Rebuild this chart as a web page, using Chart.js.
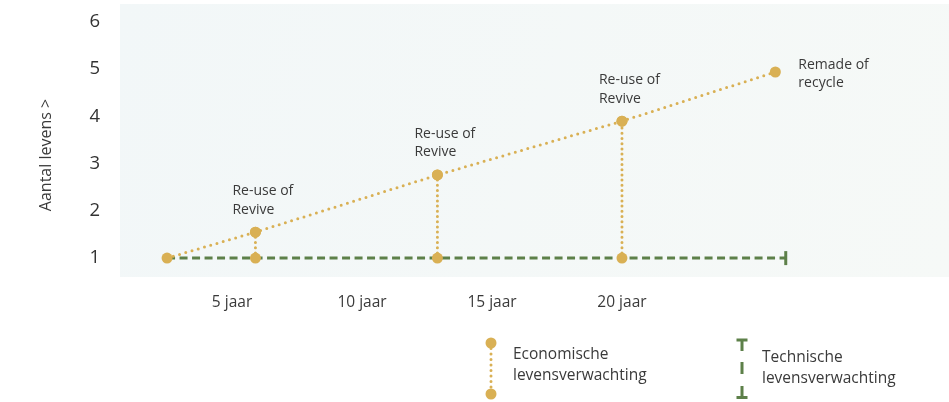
<!DOCTYPE html>
<html>
<head>
<meta charset="utf-8">
<script src="https://cdn.jsdelivr.net/npm/chart.js@4/dist/chart.umd.min.js"></script>
<style>
  html, body { margin: 0; padding: 0; background: #ffffff; }
  #wrap { width: 949px; height: 402px; position: relative; }
</style>
</head>
<body>
<div id="wrap"><canvas id="chart"></canvas></div>
<script>
// Years after production at which a product gets a new life
const lifeYears = [2.5, 5.9, 12.9, 20.0, 25.9];
// Number of lives reached at each of those moments
const lifeCounts = [1, 1.55, 2.76, 3.9, 4.94];
// What happens to the product at each moment (first point has no label)
const lifeLabels = ['', 'Re-use of\nRevive', 'Re-use of\nRevive', 'Re-use of\nRevive', 'Remade of\nrecycle'];
// Technical lifetime: one life, running until this year
const technicalStart = 2.5;
const technicalEnd = 26.3;
const technicalLives = 1;
// Axis ticks
const yearTicks = [5, 10, 15, 20];
const yearTickLabels = ['5 jaar', '10 jaar', '15 jaar', '20 jaar'];
const lifeTicks = [1, 2, 3, 4, 5, 6];

const GOLD = '#d9b054';
const GREEN = '#5d8049';
const TEXT = '#3a3a3a';
const FONT = "'Open Sans', 'DejaVu Sans', sans-serif";

// Economic lifetime: diagonal through all moments
const economicData = lifeYears.map((x, i) => ({ x, y: lifeCounts[i] }));

// Vertical drop lines from each intermediate moment down to one life
const dropSets = lifeYears.slice(1, 4).map((x, i) => ({
  data: [{ x, y: technicalLives }, { x, y: lifeCounts[i + 1] }],
  borderColor: GOLD,
  backgroundColor: GOLD,
  borderWidth: 3,
  borderDash: [0, 5.2],
  borderCapStyle: 'round',
  pointRadius: 5.5,
  pointHoverRadius: 5.5,
  pointBorderWidth: 0,
  order: 1
}));

const datasets = [
  {
    data: economicData,
    borderColor: GOLD,
    backgroundColor: GOLD,
    borderWidth: 3,
    borderDash: [0, 6.5],
    borderCapStyle: 'round',
    pointRadius: 5.5,
    pointHoverRadius: 5.5,
    pointBorderWidth: 0,
    order: 0
  },
  ...dropSets,
  {
    data: [{ x: technicalStart, y: technicalLives }, { x: technicalEnd, y: technicalLives }],
    borderColor: GREEN,
    backgroundColor: GREEN,
    borderWidth: 3,
    borderDash: [8, 4.5],
    pointStyle: 'line',
    pointRotation: 90,
    pointRadius: [0, 7],
    pointHoverRadius: [0, 7],
    pointBorderWidth: 3,
    pointBorderColor: GREEN,
    order: 5
  }
];

// Light tinted panel behind the plot area
const panelPlugin = {
  id: 'panel',
  beforeDraw(chart) {
    const { ctx, chartArea: a } = chart;
    const g = ctx.createLinearGradient(a.left, a.top, a.right, a.bottom);
    g.addColorStop(0, '#f2f7f8');
    g.addColorStop(1, '#f6f9f7');
    ctx.save();
    ctx.fillStyle = g;
    ctx.fillRect(a.left, a.top, a.right - a.left, a.bottom - a.top);
    ctx.restore();
  }
};

// Annotations next to each moment, the y-axis title and the custom legend
const notesPlugin = {
  id: 'notes',
  afterDraw(chart) {
    const { ctx, scales: { x, y } } = chart;
    ctx.save();
    ctx.fillStyle = TEXT;
    ctx.font = `14px ${FONT}`;
    ctx.textAlign = 'left';
    ctx.textBaseline = 'middle';
    lifeLabels.forEach((txt, i) => {
      if (!txt) return;
      const px = x.getPixelForValue(lifeYears[i]);
      const py = y.getPixelForValue(lifeCounts[i]);
      const lines = txt.split('\n');
      const last = i === lifeLabels.length - 1;
      const lx = last ? px + 23 : px - 23;
      const ly = last ? py - 7 : py - 41;
      lines.forEach((l, k) => ctx.fillText(l, lx, ly + k * 18.5));
    });

    // y-axis title
    ctx.save();
    ctx.translate(46, 155);
    ctx.rotate(-Math.PI / 2);
    ctx.textAlign = 'center';
    ctx.font = `16px ${FONT}`;
    ctx.fillText('Aantal levens >', 0, 0);
    ctx.restore();

    // legend: economic lifetime
    const ex = 491;
    ctx.strokeStyle = GOLD;
    ctx.fillStyle = GOLD;
    ctx.lineWidth = 3;
    ctx.lineCap = 'round';
    ctx.setLineDash([0, 5.5]);
    ctx.beginPath();
    ctx.moveTo(ex, 343);
    ctx.lineTo(ex, 394);
    ctx.stroke();
    ctx.setLineDash([]);
    [343, 394].forEach(cy => {
      ctx.beginPath();
      ctx.arc(ex, cy, 5.5, 0, Math.PI * 2);
      ctx.fill();
    });

    // legend: technical lifetime
    const tx = 742;
    ctx.strokeStyle = GREEN;
    ctx.lineWidth = 3;
    ctx.lineCap = 'butt';
    ctx.beginPath();
    ctx.moveTo(tx - 5.5, 340); ctx.lineTo(tx + 5.5, 340);
    ctx.moveTo(tx, 340); ctx.lineTo(tx, 351);
    ctx.moveTo(tx, 362); ctx.lineTo(tx, 374);
    ctx.moveTo(tx, 386); ctx.lineTo(tx, 398);
    ctx.moveTo(tx - 5.5, 397.5); ctx.lineTo(tx + 5.5, 397.5);
    ctx.stroke();

    ctx.fillStyle = TEXT;
    ctx.font = `15.5px ${FONT}`;
    ctx.textAlign = 'left';
    ctx.fillText('Economische', 513, 355);
    ctx.fillText('levensverwachting', 513, 376);
    ctx.fillText('Technische', 762, 358);
    ctx.fillText('levensverwachting', 762, 379);
    ctx.restore();
  }
};

// Scales keep a fixed size and reserve no extra room for label overflow
function fixBox(size, horizontal) {
  return s => {
    if (horizontal) s.height = size; else s.width = size;
    s.paddingTop = 0; s.paddingBottom = 0; s.paddingLeft = 0; s.paddingRight = 0;
  };
}

new Chart(document.getElementById('chart'), {
  type: 'line',
  data: { datasets },
  plugins: [panelPlugin, notesPlugin],
  options: {
    responsive: true,
    maintainAspectRatio: false,
    animation: false,
    events: [],
    layout: { autoPadding: false, padding: { top: 4, right: 0, bottom: 0, left: 0 } },
    plugins: { legend: { display: false }, tooltip: { enabled: false } },
    scales: {
      x: {
        type: 'linear',
        min: 0.69,
        max: 32.58,
        afterFit: fixBox(125, true),
        afterBuildTicks(s) { s.ticks = yearTicks.map(v => ({ value: v })); },
        grid: { display: false, drawTicks: false },
        border: { display: false },
        ticks: {
          padding: 16,
          color: TEXT,
          font: { family: FONT, size: 15.5 },
          callback: v => yearTickLabels[yearTicks.indexOf(v)]
        }
      },
      y: {
        type: 'linear',
        min: 0.6,
        max: 6.38,
        afterFit: fixBox(120, false),
        afterBuildTicks(s) { s.ticks = lifeTicks.map(v => ({ value: v })); },
        grid: { display: false, drawTicks: false },
        border: { display: false },
        ticks: {
          padding: 20,
          color: '#333333',
          font: { family: FONT, size: 18.5 },
          callback: v => String(v)
        }
      }
    }
  }
});
</script>
</body>
</html>
